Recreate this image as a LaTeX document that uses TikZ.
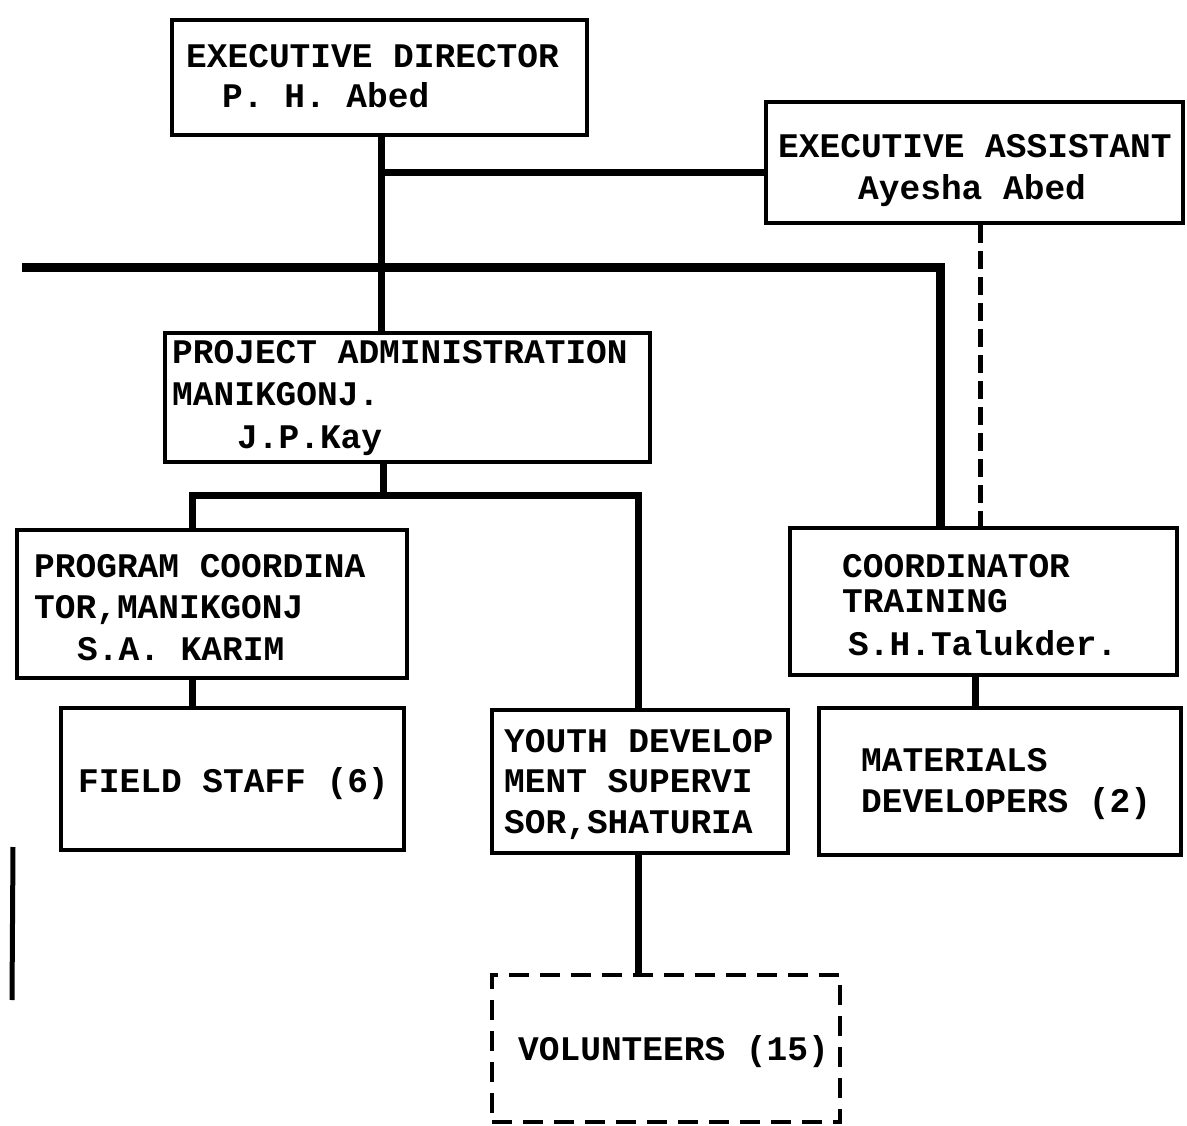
\documentclass[tikz,border=0pt]{standalone}
\usepackage{fontspec}
\setmonofont{Liberation Mono}
\begin{document}
\begin{tikzpicture}[x=1pt,y=-1pt,
  box/.style={draw=black,line width=4.5pt,rectangle,inner sep=0pt},
  dbox/.style={box,line width=4pt,dash pattern=on 20pt off 11pt},
  txt/.style={anchor=base west,inner sep=0pt,font=\ttfamily\bfseries\fontsize{34.5}{40}\selectfont},
  conn/.style={draw=black,line width=7pt},
  mainconn/.style={draw=black,line width=9pt},
  dconn/.style={draw=black,line width=5pt,dash pattern=on 18pt off 8pt}]
\useasboundingbox (0,0) rectangle (1187,1126);
\fill[white] (0,0) rectangle (1187,1126);

% boxes
\node[box,minimum width=415pt,minimum height=115pt] (ed) at (379.5,77.5) {};
\node[box,minimum width=417pt,minimum height=121pt] (ea) at (974.5,162.5) {};
\node[box,minimum width=485pt,minimum height=129pt] (pa) at (407.5,397.5) {};
\node[box,minimum width=390pt,minimum height=148pt] (pc) at (212,604) {};
\node[box,minimum width=343pt,minimum height=142pt] (fs) at (232.5,779) {};
\node[box,minimum width=296pt,minimum height=143pt] (yd) at (640,781.5) {};
\node[dbox,minimum width=348pt,minimum height=147pt] (vol) at (666,1048.5) {};
\node[box,minimum width=387pt,minimum height=147pt] (ct) at (983.5,601.5) {};
\node[box,minimum width=362pt,minimum height=147pt] (md) at (1000,781.5) {};

% texts
\node[txt] (ed1) at (186,68) {EXECUTIVE DIRECTOR};
\node[txt] (ed2) at (222,108) {P. H. Abed};
\node[txt] (ea1) at (778,158) {EXECUTIVE ASSISTANT};
\node[txt] (ea2) at (858,200) {Ayesha Abed};
\node[txt] (pa1) at (172,363) {PROJECT ADMINISTRATION};
\node[txt] (pa2) at (172,405) {MANIKGONJ.};
\node[txt] (pa3) at (237,448) {J.P.Kay};
\node[txt] (pc1) at (34,577) {PROGRAM COORDINA};
\node[txt] (pc2) at (34,618) {TOR,MANIKGONJ};
\node[txt] (pc3) at (77,660) {S.A. KARIM};
\node[txt] (fs1) at (78,792) {FIELD STAFF (6)};
\node[txt] (yd1) at (504,752) {YOUTH DEVELOP};
\node[txt] (yd2) at (504,792) {MENT SUPERVI};
\node[txt] (yd3) at (504,833) {SOR,SHATURIA};
\node[txt] (ct1) at (842,577) {COORDINATOR};
\node[txt] (ct2) at (842,612) {TRAINING};
\node[txt] (ct3) at (848,655) {S.H.Talukder.};
\node[txt] (md1) at (861,771) {MATERIALS};
\node[txt] (md2) at (861,812) {DEVELOPERS (2)};
\node[txt] (vol1) at (518,1060) {VOLUNTEERS (15)};

% junction coordinates
\coordinate (edx) at (381,0);
\coordinate (j1) at (381,173);
\coordinate (lend) at (22,268);
\coordinate (tc) at (940,268);
\coordinate (dx) at (980,0);
\coordinate (pj) at (383,495);
\coordinate (pl) at (192,495);
\coordinate (pr) at (638,495);
\coordinate (cx) at (975,0);

% connectors
\draw[conn] (edx |- ed.south) -- (edx |- pa.north);
\draw[conn] (j1) -- (j1 -| ea.west);
\draw[mainconn] (lend) -- (tc) -- (tc |- ct.north);
\draw[dconn] (dx |- ea.south) -- (dx |- ct.north);
\draw[conn] (pj |- pa.south) -- (pj);
\draw[conn] (pl |- pc.north) -- (pl) -- (pr) -- (pr |- yd.north);
\draw[conn] (pl |- pc.south) -- (pl |- fs.north);
\draw[conn] (pr |- yd.south) -- (pr |- vol.north);
\draw[conn] (cx |- ct.south) -- (cx |- md.north);

% scan mark at left edge
\draw[line width=5pt] (13,847) -- (12,1000);
\end{tikzpicture}
\end{document}
